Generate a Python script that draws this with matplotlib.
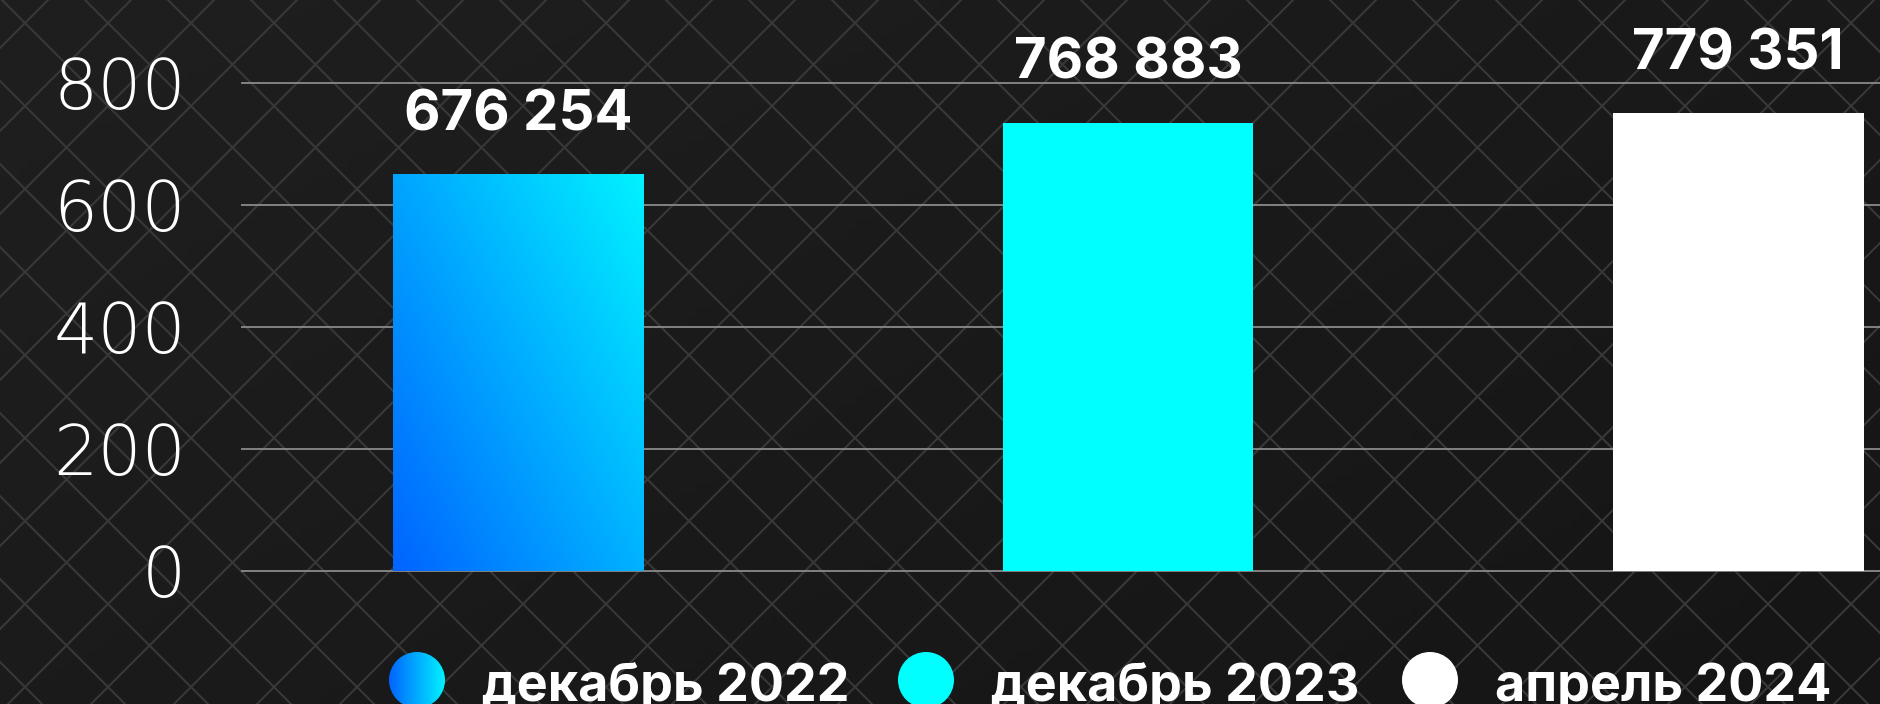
import matplotlib
matplotlib.use('Agg')
import matplotlib.pyplot as plt
import numpy as np
from matplotlib.patches import Circle
from matplotlib.colors import LinearSegmentedColormap

# data
periods = ['декабрь 2022', 'декабрь 2023', 'апрель 2024']
heights = [651, 735, 751]            # bar tops as read on the y axis
value_labels = ['676 254', '768 883', '779 351']
yticks = [0, 200, 400, 600, 800]

W, H = 1881, 704
BOLD = ['Inter', 'DejaVu Sans']
THIN = ['DejaVu Sans']
blue_cyan = LinearSegmentedColormap.from_list('bc', ['#0064ff', '#00f2ff'])
solid = [None, '#00ffff', '#ffffff']

fig = plt.figure(figsize=(W / 100, H / 100), dpi=100)

# background: dark shading + diagonal lattice
bg = fig.add_axes([0, 0, 1, 1], zorder=-2)
bg.set_xlim(0, W)
bg.set_ylim(H, 0)
bg.axis('off')
xx, yy = np.meshgrid(np.linspace(0, 1, 200), np.linspace(0, 1, 80))
shade = (31 - 6 * xx - 4 * yy) / 255
bg.imshow(np.dstack([shade] * 3), extent=[0, W, H, 0], aspect='auto')
step = 83
for k in range(-12, 36):
    c1 = 2 + k * step
    bg.plot([c1, c1 + H], [0, H], color='#383838', lw=1.5)
    c2 = 48 + k * step
    bg.plot([c2, c2 - H], [0, H], color='#383838', lw=1.5)
bg.set_xlim(0, W)
bg.set_ylim(H, 0)

# main axes
ax = fig.add_axes([241 / W, 1 - 595.4 / H, 1 - 241 / W, (595.4 - 34.2) / H])
ax.patch.set_alpha(0)
x = np.arange(len(heights))
bw = 0.411
bars = ax.bar(x, heights, width=bw, color=['none' if c is None else c for c in solid],
              zorder=3, linewidth=0)

# gradient fill on the first bar
u, v = np.meshgrid(np.linspace(0, 1, 100), np.linspace(0, 1, 100))
grad = 0.55 * u + 0.45 * v
im = ax.imshow(grad, extent=[x[0] - bw / 2, x[0] + bw / 2, 0, heights[0]], origin='lower',
               aspect='auto', cmap=blue_cyan, zorder=3)
im.set_clip_path(bars[0])

for xi, h, lab in zip(x, heights, value_labels):
    ax.annotate(lab, (xi, h), xytext=(0, 31.5), textcoords='offset points',
                ha='center', va='baseline', color='white', fontsize=40.5,
                fontweight='bold', family=BOLD)

ax.set_xlim(-0.454, 2.234)
ax.set_ylim(-40, 880)
ax.set_yticks(yticks)
ax.set_xticks([])
ax.tick_params(axis='y', length=0, pad=39.5, labelsize=50, labelcolor='white')
for t in ax.get_yticklabels():
    t.set_fontweight(200)
    t.set_family(THIN)
ax.yaxis.grid(True, color='#8a8a8a', lw=1.3)
ax.set_axisbelow(True)
for s in ax.spines.values():
    s.set_visible(False)

# legend drawn in pixel coordinates
lg = fig.add_axes([0, 0, 1, 1], zorder=5)
lg.set_xlim(0, W)
lg.set_ylim(H, 0)
lg.axis('off')
lg.patch.set_alpha(0)
item_x = [417, 926, 1430]
r = 28
for i, (cx, name) in enumerate(zip(item_x, periods)):
    if solid[i] is None:
        circ = Circle((cx, 680), r, facecolor='none', edgecolor='none')
        lg.add_patch(circ)
        gi = lg.imshow(np.linspace(0, 1, 100)[None, :], extent=[cx - r, cx + r, 680 + r, 680 - r],
                       aspect='auto', cmap=blue_cyan)
        gi.set_clip_path(circ)
    else:
        lg.add_patch(Circle((cx, 680), r, facecolor=solid[i], edgecolor='none'))
    lg.text(cx + 65, 701, name, va='baseline', ha='left', color='white',
            fontsize=37.5, fontweight='bold', family=BOLD)
lg.set_xlim(0, W)
lg.set_ylim(H, 0)

fig.savefig('out.png', dpi=100, facecolor='#1c1c1c')
